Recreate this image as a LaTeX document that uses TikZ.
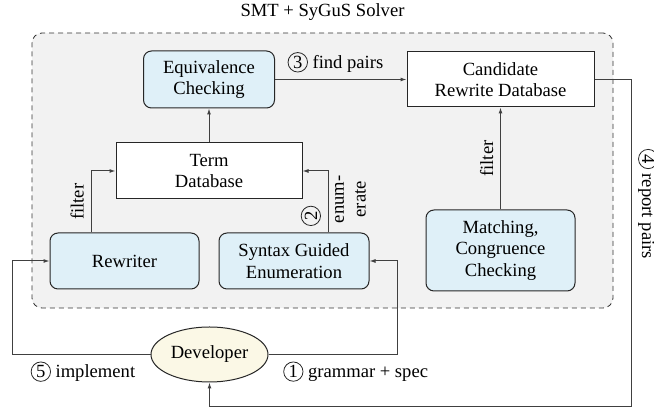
\documentclass[tikz,border=0pt]{standalone}
\usepackage{fontspec}
\setmainfont{LiberationSerif}[Extension=.ttf, UprightFont=*-Regular, BoldFont=*-Bold, ItalicFont=*-Italic, BoldItalicFont=*-BoldItalic]
\usetikzlibrary{arrows.meta, positioning, calc, shapes.geometric}

\definecolor{procblue}{HTML}{DFF0F8}
\definecolor{devyellow}{HTML}{FBF8E6}
\definecolor{solvergray}{HTML}{F2F2F2}

% circled step number
\newcommand{\circnum}[1]{\tikz[baseline=(cn.base)]\node[draw=black!85, circle, anchor=center, inner sep=0.7pt, line width=0.4pt] (cn) {#1};}

\begin{document}
\begin{tikzpicture}[
  font=\fontsize{9.3}{10.8}\selectfont,
  box/.style={
    draw=black!85,
    line width=0.5pt,
    align=center,
    fill=white,
    inner sep=2pt
  },
  proc/.style={box, rounded corners=4pt, fill=procblue},
  solver/.style={draw=black!80, dash pattern=on 2.5pt off 2pt, rounded corners=5pt, fill=solvergray},
  dev/.style={draw=black!85, ellipse, fill=devyellow, line width=0.5pt, inner sep=1pt},
  flow/.style={draw=black!75, line width=0.5pt, -{Latex[length=3pt, width=2pt]}}
]

\useasboundingbox (0,0) rectangle (327pt,-205pt);

% Solver frame
\node[solver, minimum width=290.5pt, minimum height=137.5pt] (smt) at (161.25pt,-85.25pt) {};
\node[above=2.5pt of smt] (title) {SMT + SyGuS Solver};

% Top row
\node[box, minimum width=93pt, minimum height=28pt] (term) at (104.5pt,-85.5pt) {Term\\Database};
\node[proc, minimum width=65.5pt, minimum height=28.5pt, above=17pt of term] (equiv) {Equivalence\\Checking};
\node[box, minimum width=93.5pt, minimum height=27.5pt, right=65.75pt of equiv] (cand) {Candidate\\Rewrite Database};

% Bottom row
\node[proc, minimum width=74.5pt, minimum height=40.5pt, below=51pt of cand] (match) {Matching,\\Congruence\\Checking};
\node[proc, minimum width=74.5pt, minimum height=28pt] (rew) at (62.25pt,-130.5pt) {Rewriter};
\node[proc, minimum width=75pt, minimum height=28pt, right=9.5pt of rew] (sge) {Syntax Guided\\Enumeration};

% Outside the solver
\node[dev, minimum width=58.5pt, minimum height=27.5pt] (dev) at (104.75pt,-177.25pt) {Developer};
\coordinate (back) at (315.5pt,-203.5pt);

% Arrows with labels
\draw[flow] (term) -- (equiv);
\draw[flow] (equiv) -- node[above, pos=0.46] {\circnum{3} find pairs} (cand);
\draw[flow] ([xshift=-16.75pt]rew.north) |- node[pos=0.25, above, rotate=90] {filter} (term.west);
\draw[flow] ([xshift=17pt]sge.north) |- node[pos=0.135, above, rotate=90] {\circnum{2}}
  node[pos=0.27, below, rotate=90, align=center] {enum-\\erate} (term.east);
\draw[flow] (match) -- node[midway, above, rotate=90] {filter} (cand);

\draw[flow] (cand.east) -| node[pos=0.69, above, rotate=-90] {\circnum{4} report pairs} (back) -| (dev.south);
\draw[flow] (dev.west) -| node[pos=0.03, below left] {\circnum{5} implement} ([xshift=-18.5pt]rew.west) -- (rew.west);
\draw[flow] (dev.east) -| node[pos=0.03, below right] {\circnum{1} grammar + spec} ([xshift=14pt]sge.east) -- (sge.east);

\end{tikzpicture}
\end{document}
